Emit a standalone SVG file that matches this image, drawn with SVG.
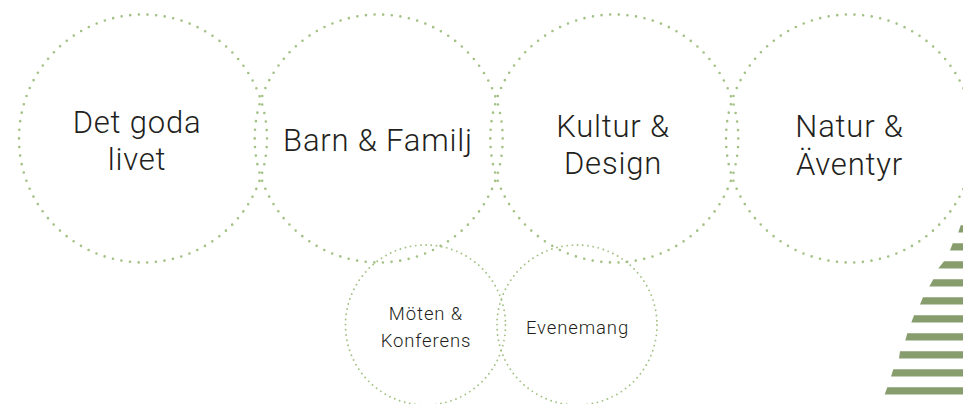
<svg xmlns="http://www.w3.org/2000/svg" width="963" height="404" viewBox="0 0 963 404">
  <style>
    .ring-lg { fill: none; stroke: #a2c184; stroke-width: 2.6; stroke-linecap: round; stroke-dasharray: 0 8.656; }
    .ring-sm { fill: none; stroke: #a2c184; stroke-width: 1.9; stroke-linecap: round; stroke-dasharray: 0 5.236; }
    .lbl-lg { font-family: Roboto, "Liberation Sans", sans-serif; font-weight: 300; font-size: 31px; letter-spacing: 0.8px; fill: #231f20; text-anchor: middle; }
    .lbl-sm { font-family: Roboto, "Liberation Sans", sans-serif; font-weight: 300; font-size: 18.5px; letter-spacing: 0.9px; fill: #231f20; text-anchor: middle; }
    .stripe { fill: #879d6e; }
  </style>
  <rect width="963" height="404" fill="#ffffff"/>

  <g id="det-goda-livet">
    <circle class="ring-lg" cx="143" cy="138.5" r="124"/>
    <text class="lbl-lg" x="137" y="133">Det goda</text>
    <text class="lbl-lg" x="137" y="170">livet</text>
  </g>

  <g id="barn-familj">
    <circle class="ring-lg" cx="378.7" cy="138.5" r="124"/>
    <text class="lbl-lg" x="378" y="151">Barn &amp; Familj</text>
  </g>

  <g id="kultur-design">
    <circle class="ring-lg" cx="614.3" cy="138.5" r="124"/>
    <text class="lbl-lg" x="613" y="137">Kultur &amp;</text>
    <text class="lbl-lg" x="613" y="174">Design</text>
  </g>

  <g id="natur-aventyr">
    <circle class="ring-lg" cx="850" cy="138.5" r="124"/>
    <text class="lbl-lg" x="849.5" y="137">Natur &amp;</text>
    <text class="lbl-lg" x="849.5" y="175">Äventyr</text>
  </g>

  <g id="moten-konferens">
    <circle class="ring-sm" cx="425.5" cy="325" r="80"/>
    <text class="lbl-sm" x="426" y="320">Möten &amp;</text>
    <text class="lbl-sm" x="426" y="347">Konferens</text>
  </g>

  <g id="evenemang">
    <circle class="ring-sm" cx="577" cy="325" r="80"/>
    <text class="lbl-sm" x="577.5" y="334">Evenemang</text>
  </g>

  <g id="connectors"></g>

  <!-- striped tree shape, bottom right -->
  <g id="stripes">
    <polygon class="stripe" points="960.7,225.3 963,225.3 963,232.6 958.3,232.6"/>
    <polygon class="stripe" points="952.7,243.3 963,243.3 963,250.6 950,250.6"/>
    <polygon class="stripe" points="944,261.3 963,261.3 963,268.6 938.3,268.6"/>
    <polygon class="stripe" points="933.3,279.3 963,279.3 963,286.6 929.3,286.6"/>
    <polygon class="stripe" points="923,297.3 963,297.3 963,304.6 920,304.6"/>
    <polygon class="stripe" points="914,315.3 963,315.3 963,322.6 911.3,322.6"/>
    <polygon class="stripe" points="907.3,333.3 963,333.3 963,340.6 905.3,340.6"/>
    <polygon class="stripe" points="900,351.3 963,351.3 963,358.6 899,358.6"/>
    <polygon class="stripe" points="893.3,369.3 963,369.3 963,376.6 891,376.6"/>
    <polygon class="stripe" points="887.3,387.3 963,387.3 963,394.6 884.7,394.6"/>
  </g>
</svg>
